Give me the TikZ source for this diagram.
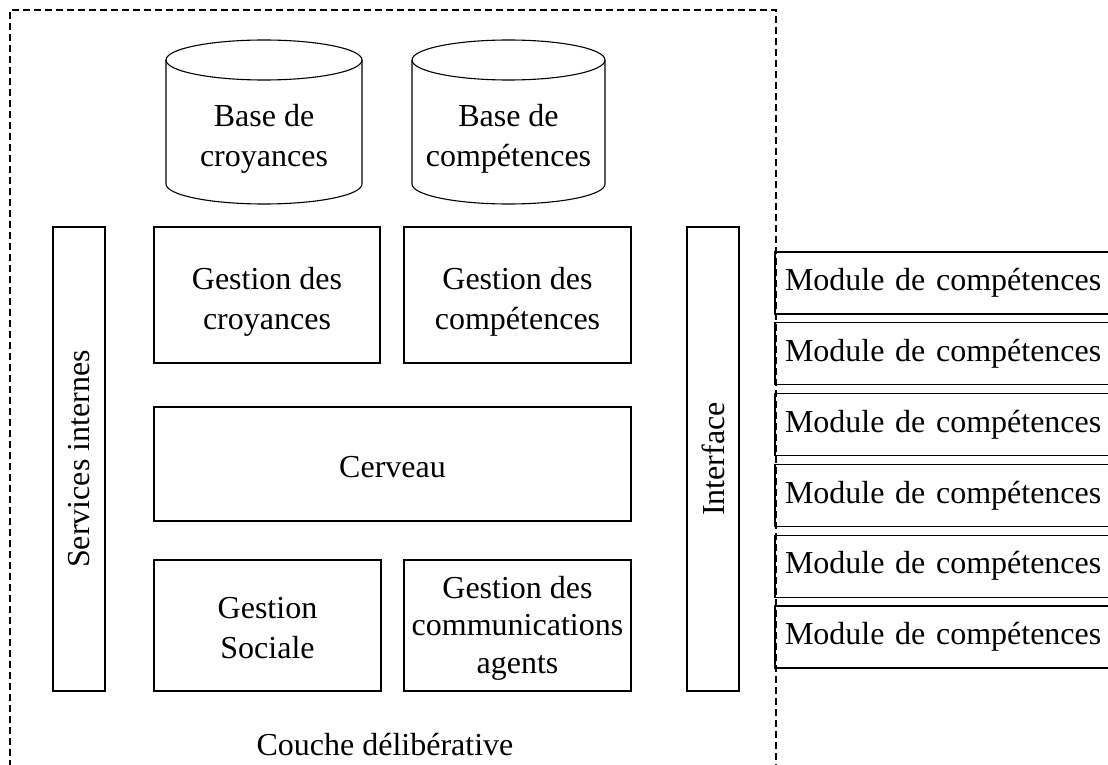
\documentclass[tikz,border=0pt]{standalone}
\usepackage{fontspec}
\setmainfont{Liberation Serif}
\begin{document}
\begin{tikzpicture}[x=1pt,y=-1pt,
  line width=1.1pt,
  every node/.style={font=\fontsize{32}{40}\selectfont, inner sep=0pt, outer sep=0pt},
  lbl/.style={align=center},
  blk/.style={draw},
  vbar/.style={draw, minimum width=52pt, minimum height=464pt},
  modbox/.style={draw, anchor=north west, text width=330pt, inner xsep=10pt,
                 minimum height=62pt, align=left},
  layer/.style={dashed, dash pattern=on 7pt off 4pt, line width=1.1pt}]
\useasboundingbox (0,0) rectangle (1108,765);
\clip (0,0) rectangle (1108,765);

% deliberative layer frame (open at the bottom edge)
\draw[layer] (10,800) -- (10,10) -- (776,10) -- (776,800);

% knowledge bases
\draw (166,60) -- (166,184) arc[start angle=180, end angle=0, x radius=98, y radius=20] -- (362,60);
\draw (264,60) ellipse [x radius=98, y radius=20];
\node[lbl] (bcroy) at (264,139) {Base de\\croyances};

\draw (412,60) -- (412,184) arc[start angle=180, end angle=0, x radius=96.5, y radius=20] -- (605,60);
\draw (508.5,60) ellipse [x radius=96.5, y radius=20];
\node[lbl] (bcomp) at (508.5,139) {Base de\\compétences};

% side bars
\node[vbar] (serv) at (79,459) {};
\node[rotate=90] (servt) at (serv.center) {Services internes};
\node[vbar] (intf) at (713,459) {};
\node[rotate=90] (intft) at (intf.center) {Interface};

% core blocks
\node[blk, minimum width=226pt, minimum height=136pt] (gcroy) at (267,295) {};
\node[lbl] (gcroyt) at (267,302) {Gestion des\\croyances};
\node[blk, minimum width=227pt, minimum height=136pt] (gcomp) at (517.5,295) {};
\node[lbl] (gcompt) at (517.5,302) {Gestion des\\compétences};
\node[blk, minimum width=477pt, minimum height=114pt] (cerv) at (392.5,464) {};
\node[lbl] (cervt) at (392.5,467) {Cerveau};
\node[blk, minimum width=227pt, minimum height=131pt] (soc) at (267.5,625.5) {};
\node[lbl] (soct) at (267.5,628) {Gestion\\Sociale};
\node[blk, minimum width=227pt, minimum height=131pt] (comm) at (517.5,625.5) {};
\node[lbl, font=\fontsize{32}{37.5}\selectfont] (commt) at (517.5,628) {Gestion des\\communications\\agents};

\node (couche) at (385,745) {Couche délibérative};

% skill modules
\node[modbox] (m1) at (775,252)   {Module de compétences};
\node[modbox] (m2) at (775,322.8) {Module de compétences};
\node[modbox] (m3) at (775,393.6) {Module de compétences};
\node[modbox] (m4) at (775,464.4) {Module de compétences};
\node[modbox] (m5) at (775,535.2) {Module de compétences};
\node[modbox] (m6) at (775,606)   {Module de compétences};
\end{tikzpicture}
\end{document}
